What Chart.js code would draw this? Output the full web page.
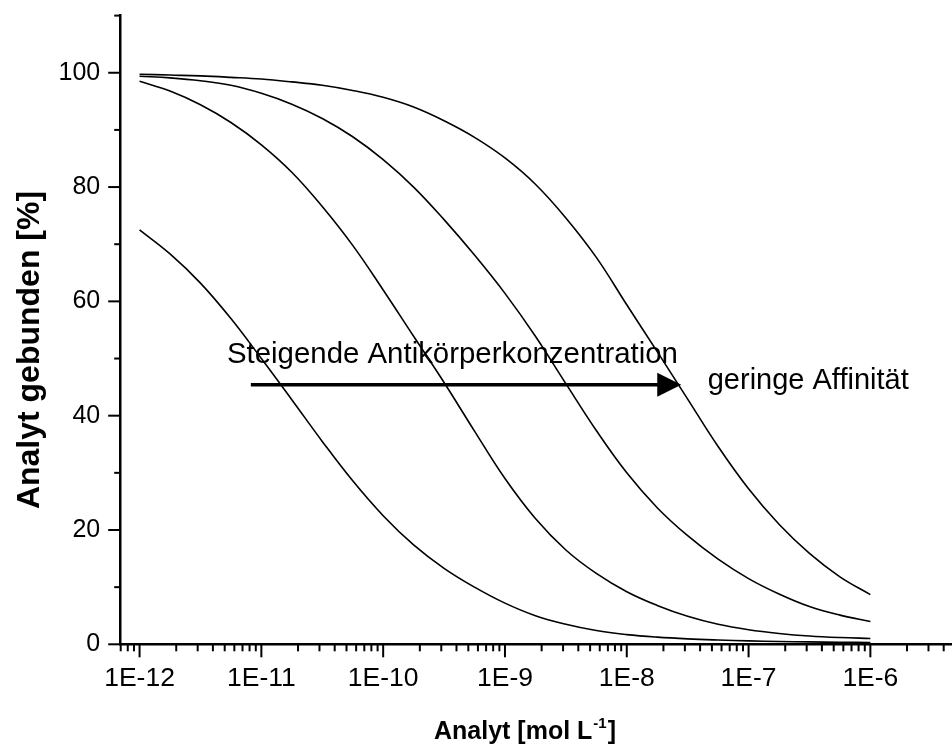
<!DOCTYPE html>
<html><head><meta charset="utf-8">
<style>html,body{margin:0;padding:0;overflow:hidden;background:#fff}#wrap{position:absolute;left:0;top:0;width:960px;height:749px}</style>
<script src="https://cdn.jsdelivr.net/npm/chart.js@4.4.1/dist/chart.umd.min.js"></script>
</head><body><div id="wrap"><canvas id="c" width="960" height="749"></canvas></div>
<script>
// concentrations (mol/L), quarter-decade steps from 1E-12 to 1E-6
const concentrations = [1e-12,1.778e-12,3.162e-12,5.623e-12,1e-11,1.778e-11,3.162e-11,5.623e-11,1e-10,1.778e-10,3.162e-10,5.623e-10,1e-9,1.778e-9,3.162e-9,5.623e-9,1e-8,1.778e-8,3.162e-8,5.623e-8,1e-7,1.778e-7,3.162e-7,5.623e-7,1e-6];
// bound analyte [%] for four curves
const curve1 = [72.5,68.3,63.2,57.0,50.0,42.8,35.5,28.6,22.5,17.4,13.3,10.0,7.2,5.0,3.5,2.4,1.7,1.25,0.95,0.75,0.6,0.5,0.42,0.36,0.3];
const curve2 = [98.5,96.8,94.4,91.3,87.4,82.6,76.6,69.8,62.0,53.9,45.8,37.3,29.0,22.0,16.5,12.4,9.2,6.8,4.9,3.5,2.55,1.9,1.45,1.18,1.02];
const curve3 = [99.4,99.1,98.6,97.8,96.4,94.5,92.0,88.8,84.8,80.0,74.3,68.1,61.4,53.9,45.6,37.4,30.0,23.9,19.0,14.9,11.5,8.8,6.6,5.1,4.0];
const curve4 = [99.75,99.6,99.45,99.2,98.9,98.4,97.8,96.9,95.7,94.0,91.6,88.7,85.1,80.5,74.6,67.7,59.4,51.2,42.9,34.6,27.2,21.0,15.9,11.8,8.7];
// axis tick values
const xTickValues = [7e-13,8e-13,9e-13,1e-12,2e-12,3e-12,4e-12,5e-12,6e-12,7e-12,8e-12,9e-12,1e-11,2e-11,3e-11,4e-11,5e-11,6e-11,7e-11,8e-11,9e-11,1e-10,2e-10,3e-10,4e-10,5e-10,6e-10,7e-10,8e-10,9e-10,1e-9,2e-9,3e-9,4e-9,5e-9,6e-9,7e-9,8e-9,9e-9,1e-8,2e-8,3e-8,4e-8,5e-8,6e-8,7e-8,8e-8,9e-8,1e-7,2e-7,3e-7,4e-7,5e-7,6e-7,7e-7,8e-7,9e-7,1e-6,2e-6,3e-6,4e-6,5e-6];
const xMajorLabels = {"-12":"1E-12","-11":"1E-11","-10":"1E-10","-9":"1E-9","-8":"1E-8","-7":"1E-7","-6":"1E-6"};
const yTickValues = [0,10,20,30,40,50,60,70,80,90,100,110];
const yMajorLabels = [0,20,40,60,80,100];

const FONT = "'Liberation Sans', Arial, Helvetica, sans-serif";
function isDecade(v){const e=Math.round(Math.log10(v));return Math.abs(v/Math.pow(10,e)-1)<1e-6;}

const series = [curve1,curve2,curve3,curve4].map(arr=>({
  data: concentrations.map((c,i)=>({x:c,y:arr[i]})),
  borderColor:'#000', borderWidth:1.6, pointRadius:0, fill:false,
  tension:0.4
}));

const decor = {
  id:'decor',
  afterDraw(chart){
    const ctx=chart.ctx, xs=chart.scales.x, ys=chart.scales.y, ca=chart.chartArea;
    ctx.save();
    ctx.strokeStyle='#000'; ctx.fillStyle='#000'; ctx.lineCap='butt';
    // x tick marks
    ctx.lineWidth=2;
    xs.ticks.forEach(t=>{
      const px=xs.getPixelForValue(t.value);
      const len=isDecade(t.value)?13:7;
      ctx.beginPath(); ctx.moveTo(px,ca.bottom); ctx.lineTo(px,ca.bottom+len); ctx.stroke();
    });
    // y tick marks
    ys.ticks.forEach(t=>{
      const py=ys.getPixelForValue(t.value);
      const len=yMajorLabels.includes(t.value)?12.5:6.5;
      ctx.beginPath(); ctx.moveTo(ca.left,py); ctx.lineTo(ca.left-len,py); ctx.stroke();
    });
    // arrow
    const ax0=xs.getPixelForValue(8.2e-12), ax1=xs.getPixelForValue(2.8e-8), ay=ys.getPixelForValue(45.4);
    ctx.lineWidth=3.5;
    ctx.beginPath(); ctx.moveTo(ax0,ay); ctx.lineTo(ax1-22,ay); ctx.stroke();
    ctx.beginPath(); ctx.moveTo(ax1,ay); ctx.lineTo(ax1-24,ay-12); ctx.lineTo(ax1-24,ay+12); ctx.closePath(); ctx.fill();
    // annotation texts
    ctx.textBaseline='alphabetic'; ctx.textAlign='left';
    ctx.font='29.4px '+FONT;
    ctx.fillText('Steigende Antikörperkonzentration', xs.getPixelForValue(5.22e-12), ys.getPixelForValue(49.2));
    ctx.font='29px '+FONT;
    ctx.fillText('geringe Affinität', xs.getPixelForValue(4.62e-8), ys.getPixelForValue(44.6));
    // y axis title
    ctx.save();
    ctx.translate(30,350); ctx.rotate(-Math.PI/2);
    ctx.font='bold 32px '+FONT; ctx.textAlign='center'; ctx.textBaseline='middle';
    ctx.fillText('Analyt gebunden [%]',0,0);
    ctx.restore();
    // x axis title with superscript
    const bx=434, by=739;
    ctx.font='bold 25px '+FONT; ctx.textAlign='left'; ctx.textBaseline='alphabetic';
    const p1='Analyt [mol L';
    ctx.fillText(p1,bx,by);
    let w=ctx.measureText(p1).width;
    ctx.font='bold 15px '+FONT;
    ctx.fillText('-1',bx+w+1,by-11);
    const w2=ctx.measureText('-1').width;
    ctx.font='bold 25px '+FONT;
    ctx.fillText(']',bx+w+w2+2,by);
    ctx.restore();
  }
};

new Chart(document.getElementById('c'),{
  type:'line',
  data:{datasets:series},
  options:{
    responsive:false, animation:false, devicePixelRatio:1,
    layout:{padding:{top:15.6,right:4.5,left:0,bottom:0}},
    plugins:{legend:{display:false},tooltip:{enabled:false}},
    scales:{
      x:{type:'logarithmic',min:7e-13,max:5e-6,
        afterBuildTicks:s=>{s.ticks=xTickValues.map(v=>({value:v,major:isDecade(v)}));},
        afterFit:s=>{s.height=104.7;s.paddingLeft=0;s.paddingRight=0;},
        grid:{display:true,drawOnChartArea:false,drawTicks:false},
        border:{display:true,color:'#000',width:2.5},
        ticks:{autoSkip:false,maxRotation:0,minRotation:0,padding:18,color:'#000',font:{family:FONT,size:26.5},
          callback:(v)=>{if(!isDecade(v))return '';const e=Math.round(Math.log10(v));return xMajorLabels[String(e)]||'';}}
      },
      y:{type:'linear',min:0,max:110,
        afterBuildTicks:s=>{s.ticks=yTickValues.map(v=>({value:v}));},
        afterFit:s=>{s.width=120.7;s.paddingTop=0;s.paddingBottom=0;},
        grid:{display:true,drawOnChartArea:false,drawTicks:false},
        border:{display:true,color:'#000',width:2.5},
        ticks:{autoSkip:false,padding:20.5,color:'#000',font:{family:FONT,size:25},
          callback:(v)=>yMajorLabels.includes(v)?String(v):''}
      }
    }
  },
  plugins:[decor]
});
</script></body></html>
